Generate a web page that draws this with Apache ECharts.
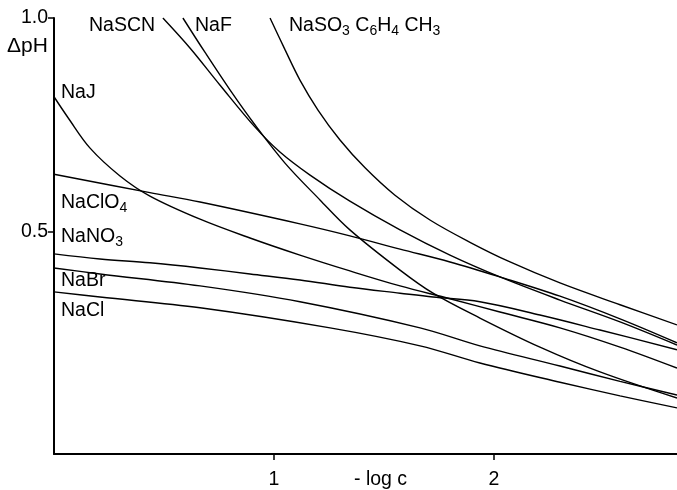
<!DOCTYPE html>
<html><head><meta charset="utf-8">
<script src="https://cdn.jsdelivr.net/npm/echarts@6/dist/echarts.min.js"></script>
<style>html,body{margin:0;padding:0;background:#fff}#c{width:677px;height:490px}</style>
</head><body><div id="c"></div>
<script>
// x = -log c, y = ΔpH
const naSO3 = [[0.982,1.0],[1.05,0.926],[1.118,0.855],[1.2,0.785],[1.3,0.715],[1.414,0.650],[1.55,0.586],[1.709,0.528],[1.891,0.476],[2.073,0.430],[2.3,0.381],[2.573,0.330],[2.832,0.283]];
const naSCN = [[0.495,1.0],[0.618,0.930],[0.755,0.843],[0.914,0.745],[1.027,0.687],[1.164,0.633],[1.345,0.572],[1.573,0.505],[1.8,0.446],[2.027,0.395],[2.3,0.341],[2.573,0.290],[2.832,0.236]];
const naF = [[0.586,1.0],[0.686,0.920],[0.8,0.832],[0.914,0.750],[1.05,0.661],[1.209,0.575],[1.345,0.505],[1.573,0.411],[1.723,0.357],[1.936,0.299],[2.209,0.231],[2.482,0.173],[2.832,0.112]];
const naJ = [[0,0.816],[0.064,0.767],[0.164,0.696],[0.3,0.631],[0.436,0.584],[0.664,0.530],[0.891,0.486],[1.118,0.446],[1.345,0.409],[1.573,0.374],[1.8,0.344],[2.027,0.313],[2.3,0.276],[2.573,0.231],[2.832,0.182]];
const naClO4 = [[0,0.635],[0.436,0.592],[0.664,0.570],[1.118,0.519],[1.345,0.491],[1.573,0.460],[1.8,0.430],[2.027,0.395],[2.3,0.350],[2.573,0.297],[2.832,0.241]];
const naNO3 = [[0,0.449],[0.209,0.437],[0.436,0.428],[0.664,0.416],[0.891,0.402],[1.118,0.388],[1.345,0.371],[1.573,0.357],[1.723,0.348],[1.936,0.337],[2.209,0.306],[2.482,0.271],[2.832,0.225]];
const naBr = [[0,0.416],[0.209,0.402],[0.664,0.374],[1.118,0.337],[1.664,0.276],[1.936,0.234],[2.3,0.187],[2.573,0.151],[2.832,0.119]];
const naCl = [[0,0.360],[0.209,0.348],[0.664,0.323],[1.255,0.276],[1.664,0.234],[1.936,0.194],[2.3,0.149],[2.573,0.117],[2.832,0.089]];
const xTicks = [1, 2];
const yTicks = [0.5, 1.0];

const FONT = '"Liberation Sans", "DejaVu Sans", sans-serif';
const FS = 19.5;
const chart = echarts.init(document.getElementById('c'), null, {renderer: 'canvas'});
const mk = (name, data) => ({
  name, type: 'line', data, smooth: 0.35, showSymbol: false, symbol: 'none',
  lineStyle: {color: '#000', width: 1.4}, silent: true, animation: false
});
const lbl = (x, y, text) => ({
  type: 'text', left: x, top: y, silent: true,
  style: {text, fontFamily: FONT, fontSize: FS, fill: '#000',
    rich: {s: {fontFamily: FONT, fontSize: 14, fill: '#000', padding: [10, 0, 0, 0]},
           n: {fontFamily: FONT, fontSize: FS, fill: '#000'}}}
});
chart.setOption({
  animation: false,
  backgroundColor: '#fff',
  grid: {left: 54, right: 0, top: 18, bottom: 36, containLabel: false},
  xAxis: {type: 'value', min: 0, max: 2.832,
    axisLine: {show: true, onZero: false, lineStyle: {color: '#000', width: 2}},
    axisTick: {show: true, customValues: xTicks, length: 6, lineStyle: {color: '#000', width: 1.5}},
    axisLabel: {customValues: xTicks, color: '#000', fontFamily: FONT, fontSize: FS, margin: 16,
      formatter: v => String(v)},
    splitLine: {show: false}},
  yAxis: {type: 'value', min: -0.0187, max: 1,
    axisLine: {show: true, onZero: false, lineStyle: {color: '#000', width: 2}},
    axisTick: {show: true, customValues: yTicks, length: 6, lineStyle: {color: '#000', width: 1.5}},
    axisLabel: {customValues: yTicks, color: '#000', fontFamily: FONT, fontSize: FS, margin: 6,
      formatter: v => v.toFixed(1)},
    splitLine: {show: false}},
  series: [mk('NaSO3C6H4CH3', naSO3), mk('NaSCN', naSCN), mk('NaF', naF), mk('NaJ', naJ),
           mk('NaClO4', naClO4), mk('NaNO3', naNO3), mk('NaBr', naBr), mk('NaCl', naCl)],
  graphic: [
    {type: 'text', left: 7, top: 36, silent: true, style: {text: 'ΔpH', fontFamily: FONT, fontSize: FS + 1.5, fill: '#000'}},
    {type: 'text', left: 354, top: 470, silent: true, style: {text: '- log c', fontFamily: FONT, fontSize: FS, fill: '#000'}},
    lbl(89, 16, 'NaSCN'),
    lbl(195, 16, 'NaF'),
    lbl(289, 16, '{n|NaSO}{s|3}{n| C}{s|6}{n|H}{s|4}{n| CH}{s|3}'),
    lbl(61, 83, 'NaJ'),
    lbl(61, 193, '{n|NaClO}{s|4}'),
    lbl(61, 227, '{n|NaNO}{s|3}'),
    lbl(61, 271, 'NaBr'),
    lbl(61, 301, 'NaCl')
  ]
});
</script></body></html>
